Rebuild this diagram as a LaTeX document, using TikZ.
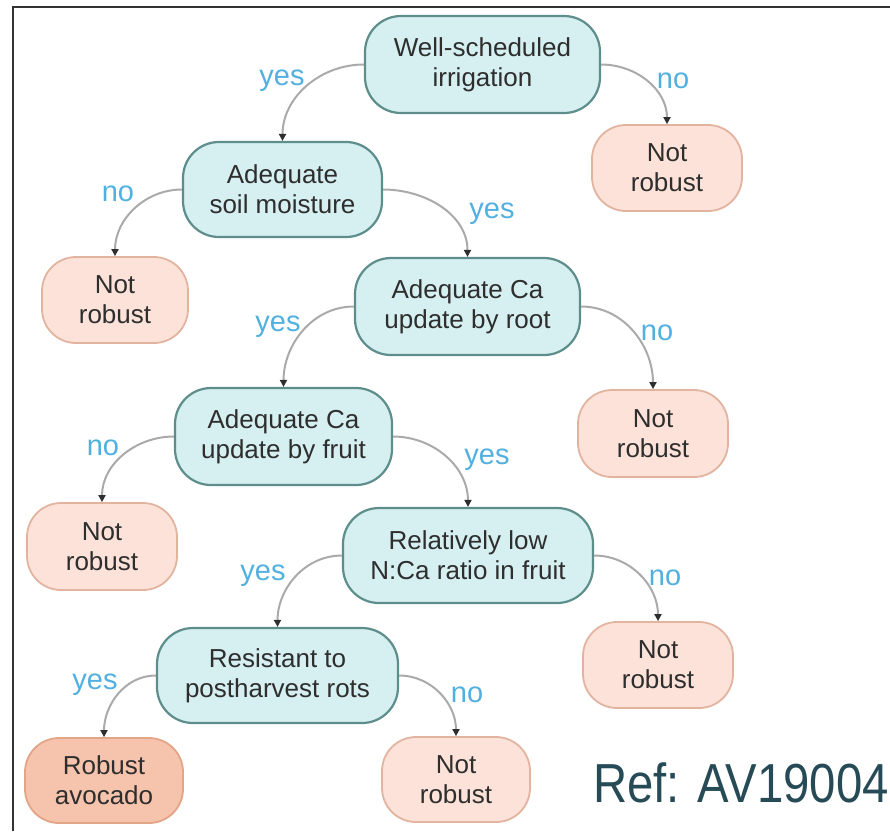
\documentclass[tikz,border=0pt]{standalone}
\usepackage{fontspec}
\setmainfont{Liberation Sans}
\usetikzlibrary{arrows.meta}

\definecolor{qfill}{HTML}{D6EFF1}
\definecolor{qline}{HTML}{5E8E8C}
\definecolor{nfill}{HTML}{FCE2D8}
\definecolor{nline}{HTML}{E2B4A0}
\definecolor{rfill}{HTML}{F6C3AC}
\definecolor{rline}{HTML}{E3A587}
\definecolor{txt}{HTML}{2E2E2E}
\definecolor{lbl}{HTML}{52B0E0}
\definecolor{edgec}{HTML}{AAAAAA}
\definecolor{refc}{HTML}{264B57}

\begin{document}
\begin{tikzpicture}[x=1pt,y=-1pt,
  box/.style={rectangle, rounded corners=36pt, align=center, text=txt,
    font=\fontsize{26}{30}\selectfont, inner sep=0pt, line width=2.2pt},
  question/.style={box, fill=qfill, draw=qline},
  notrobust/.style={box, fill=nfill, draw=nline, line width=1.8pt, rounded corners=34pt},
  robust/.style={box, fill=rfill, draw=rline, line width=1.8pt, rounded corners=34pt},
  link/.style={draw=edgec, line width=2pt, -{Triangle[length=7pt,width=7pt,color=txt]}},
  ans/.style={text=lbl, font=\fontsize{29}{30}\selectfont, inner sep=0pt}
]
\useasboundingbox (0,0) rectangle (890,831);

% frame
\coordinate (fbl) at (13,831);
\coordinate (ftl) at (13,7);
\coordinate (ftr) at (890,7);
\draw[line width=2.5pt, draw=black!80] (fbl) -- (ftl) -- (ftr);

% decision nodes and outcomes
\node[question, minimum width=235pt, minimum height=97pt] (q1) at (482.5,64.5) {Well-scheduled\\irrigation};
\node[notrobust, minimum width=150pt, minimum height=86pt] (n1) at (667,168) {Not\\robust};
\node[question, minimum width=199pt, minimum height=95pt] (q2) at (282.5,189.5) {Adequate\\soil moisture};
\node[notrobust, minimum width=146pt, minimum height=86pt] (n2) at (115,300) {Not\\robust};
\node[question, minimum width=225pt, minimum height=97pt] (q3) at (467.5,306.5) {Adequate Ca\\update by root};
\node[notrobust, minimum width=150pt, minimum height=87pt] (n3) at (653,433.5) {Not\\robust};
\node[question, minimum width=217pt, minimum height=97pt] (q4) at (283.5,436.5) {Adequate Ca\\update by fruit};
\node[notrobust, minimum width=150pt, minimum height=87pt] (n4) at (102,546.5) {Not\\robust};
\node[question, minimum width=250pt, minimum height=95pt] (q5) at (468,555.5) {Relatively low\\N:Ca ratio in fruit};
\node[notrobust, minimum width=150pt, minimum height=86pt] (n5) at (658,665) {Not\\robust};
\node[question, minimum width=241pt, minimum height=95pt] (q6) at (277.5,675.5) {Resistant to\\postharvest rots};
\node[robust, minimum width=158pt, minimum height=85pt] (r6) at (104,780.5) {Robust\\avocado};
\node[notrobust, minimum width=148pt, minimum height=85pt] (n6) at (456,779.5) {Not\\robust};

% connectors
\draw[link] (q1.west) to[out=180,in=90] (q2.north);
\draw[link] (q1.east) to[out=0,in=90] (n1.north);
\draw[link] (q2.west) to[out=180,in=90] (n2.north);
\draw[link] (q2.east) to[out=0,in=90] (q3.north);
\draw[link] (q3.west) to[out=180,in=90] (q4.north);
\draw[link] (q3.east) to[out=0,in=90] (n3.north);
\draw[link] (q4.west) to[out=180,in=90] (n4.north);
\draw[link] (q4.east) to[out=0,in=90] (q5.north);
\draw[link] (q5.west) to[out=180,in=90] (q6.north);
\draw[link] (q5.east) to[out=0,in=90] (n5.north);
\draw[link] (q6.west) to[out=180,in=90] (r6.north);
\draw[link] (q6.east) to[out=0,in=90] (n6.north);

% answer labels
\node[ans] (a1) at (282,81) {yes};
\node[ans] (a2) at (673,81) {no};
\node[ans] (a3) at (118,194) {no};
\node[ans] (a4) at (492,214) {yes};
\node[ans] (a5) at (278,327) {yes};
\node[ans] (a6) at (657,333) {no};
\node[ans] (a7) at (103,448) {no};
\node[ans] (a8) at (487,460) {yes};
\node[ans] (a9) at (263,576) {yes};
\node[ans] (a10) at (665,578) {no};
\node[ans] (a11) at (95,685) {yes};
\node[ans] (a12) at (467,695) {no};

% reference tag
\node[text=refc, font=\fontsize{55}{60}\selectfont, anchor=base west, inner sep=0pt] (ref) at (593,802) {\scalebox{0.86}[1]{Ref: AV19004}};
\end{tikzpicture}
\end{document}
